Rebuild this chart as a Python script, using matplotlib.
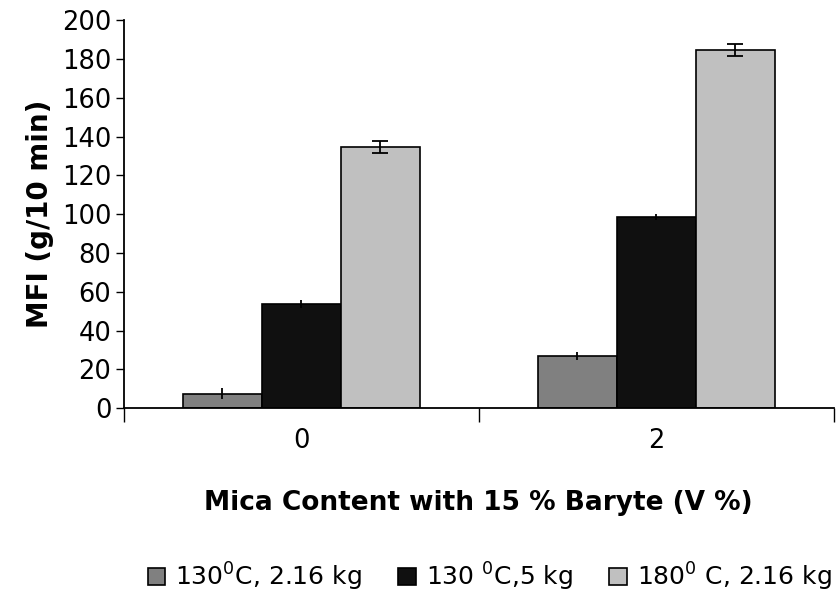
import numpy as np
import matplotlib
matplotlib.use("Agg")
import matplotlib.pyplot as plt

## data
categories = ["0", "2"]
series_names = ["130$^0$C, 2.16 kg", "130 $^0$C,5 kg", "180$^0$ C, 2.16 kg"]
mfi_130_216 = [7.5, 27.0]
mfi_130_5 = [53.5, 98.5]
mfi_180_216 = [134.5, 184.5]
err_130_216 = [3.0, 2.0]
err_130_5 = [2.0, 1.5]
err_180_216 = [3.0, 3.0]

plt.rcParams['font.family'] = ['DejaVu Sans']
fig = plt.figure(figsize=(8.37, 5.94), dpi=100)
## plot area runs from x=124 to x=834 px, y=20 to y=408 px
ax = fig.add_axes([0.148, 0.313, 0.848, 0.653])

x = np.arange(len(categories))
width = 0.2225
colors = ["#808080", "#101010", "#c0c0c0"]
values = [mfi_130_216, mfi_130_5, mfi_180_216]
errors = [err_130_216, err_130_5, err_180_216]
caps = [0, 0, 6]

for i in range(3):
    ax.bar(x + (i - 1) * width, values[i], width, color=colors[i],
           edgecolor="black", linewidth=1.2, label=series_names[i],
           yerr=errors[i], capsize=caps[i],
           error_kw=dict(ecolor="black", elinewidth=1.3, capthick=1.3))

ax.set_xlim(-0.5, 1.5)
ax.set_ylim(0, 200)
ax.set_yticks(np.arange(0, 201, 20))
ax.set_xticks([-0.5, 0.5, 1.5])
ax.set_xticklabels([])
ax.set_xticks(x, minor=True)
ax.set_xticklabels(categories, minor=True)
ax.tick_params(axis="x", which="minor", length=0, pad=14, labelsize=18.5)
ax.tick_params(axis="x", which="major", direction="out", length=10, width=1)
ax.tick_params(axis="y", direction="out", length=6, width=1, labelsize=18.5, pad=3)

for s in ["top", "right"]:
    ax.spines[s].set_visible(False)
for s in ["left", "bottom"]:
    ax.spines[s].set_linewidth(1.3)

ax.set_ylabel("MFI (g/10 min)", fontsize=20, fontweight="bold", labelpad=6)
ax.set_xlabel("Mica Content with 15 % Baryte (V %)", fontsize=19,
              fontweight="bold", labelpad=26)

fig.legend(loc="center", bbox_to_anchor=(0.585, 0.029), ncol=3,
           frameon=False, fontsize=18, handlelength=0.7, handleheight=0.7,
           handletextpad=0.4, columnspacing=1.45, borderpad=0)

fig.savefig("out.png", dpi=100)
